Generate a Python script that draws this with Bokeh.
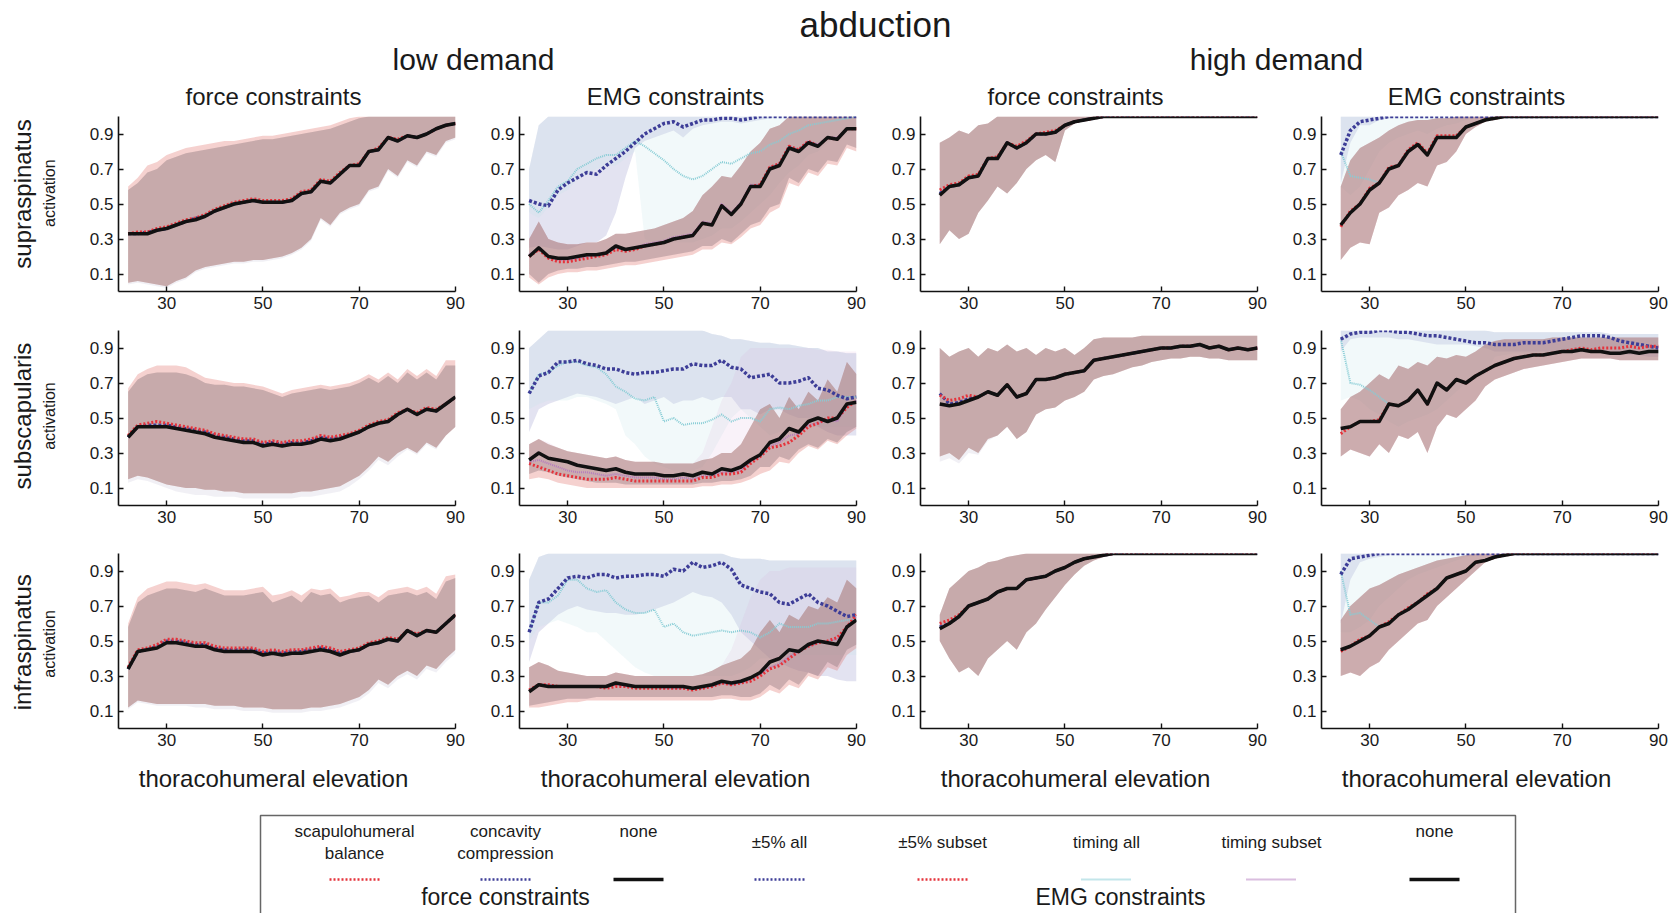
import numpy as np
from bokeh.plotting import figure
from bokeh.layouts import row, column
from bokeh.models import Range1d, FixedTicker
from bokeh.core.properties import value
from bokeh.embed import file_html
from bokeh.resources import INLINE

FONT = "Liberation Sans"
TXT = "#1a1a1a"

# ---------------- x grids (thoracohumeral elevation, deg) ----------------
x_low = [22, 24, 26, 28, 30, 32, 34, 36, 38, 40, 42, 44, 46, 48, 50, 52, 54, 56,
         58, 60, 62, 64, 66, 68, 70, 72, 74, 76, 78, 80, 82, 84, 86, 88, 90]
x_high = [24, 26, 28, 30, 32, 34, 36, 38, 40, 42, 44, 46, 48, 50, 52, 54, 56,
          58, 60, 62, 64, 66, 68, 70, 72, 74, 76, 78, 80, 82, 84, 86, 88, 90]

# ---------------- supraspinatus, low demand, force constraints ----------------
sup_lf_none = [.33, .33, .33, .35, .36, .38, .40, .41, .43, .46, .48, .50, .51, .52, .51, .51, .51, .52,
               .56, .57, .63, .62, .67, .72, .72, .80, .81, .88, .86, .89, .88, .90, .93, .95, .96]
sup_lf_sb = [.33, .34, .34, .36, .37, .39, .41, .42, .44, .47, .49, .51, .52, .53, .52, .52, .52, .53,
             .57, .58, .64, .63, .68, .72, .73, .80, .82, .88, .87, .89, .88, .90, .93, .95, .96]
sup_lf_cc = [.33, .33, .34, .35, .36, .38, .40, .42, .43, .46, .48, .50, .51, .52, .51, .51, .51, .52,
             .56, .57, .63, .62, .67, .72, .72, .80, .81, .88, .86, .89, .88, .90, .93, .95, .96]
sup_lf_hi = [.58, .62, .68, .70, .75, .77, .79, .80, .81, .82, .83, .84, .85, .86, .87, .87, .88, .89,
             .90, .91, .92, .93, .95, .97, .99, 1, 1, 1, 1, 1, 1, 1, 1, 1, 1]
sup_lf_sb_hi = [.60, .65, .72, .74, .78, .80, .82, .83, .84, .85, .86, .86, .87, .88, .89, .89, .90, .91,
                .92, .93, .94, .95, .97, .99, 1, 1, 1, 1, 1, 1, 1, 1, 1, 1, 1]
sup_lf_lo = [.05, .06, .05, .04, .03, .06, .08, .12, .14, .15, .16, .17, .17, .18, .18, .19, .20, .22,
             .25, .30, .42, .38, .45, .48, .50, .58, .60, .70, .66, .75, .72, .80, .78, .86, .88]
sup_lf_cc_lo = [.04, .05, .04, .03, .02, .05, .07, .11, .13, .14, .15, .16, .16, .17, .17, .18, .19, .21,
                .24, .29, .41, .37, .44, .47, .49, .57, .59, .69, .65, .74, .71, .79, .77, .85, .87]

# ---------------- supraspinatus, low demand, EMG constraints ----------------
sup_le_none = [.20, .25, .20, .19, .19, .20, .21, .21, .22, .26, .24, .25, .26, .27, .28, .30, .31, .32,
               .39, .38, .49, .44, .50, .60, .60, .70, .72, .82, .80, .85, .83, .88, .87, .93, .93]
sup_le_sub = [.20, .24, .19, .17, .17, .18, .19, .20, .21, .24, .23, .24, .26, .27, .28, .30, .31, .32,
              .39, .38, .49, .44, .50, .60, .61, .71, .73, .83, .81, .86, .83, .88, .87, .93, .93]
sup_le_all = [.52, .50, .49, .58, .62, .65, .68, .67, .72, .76, .80, .85, .90, .93, .96, .97, .94, .96,
              .98, .98, .99, .99, .98, .99, 1, 1, 1, 1, 1, 1, 1, 1, 1, 1, 1]
sup_le_tall = [.50, .45, .52, .60, .63, .70, .73, .76, .78, .78, .82, .86, .83, .79, .75, .70, .66, .64,
               .66, .70, .74, .73, .76, .79, .80, .84, .86, .90, .92, .95, .96, .97, .98, .99, 1]
sup_le_tsub = [.21, .25, .20, .18, .18, .19, .20, .21, .22, .25, .24, .25, .27, .28, .29, .31, .32, .33,
               .40, .39, .50, .45, .51, .61, .61, .71, .73, .83, .81, .86, .84, .88, .88, .93, .93]
sup_le_lo = [.10, .05, .10, .12, .13, .13, .14, .14, .15, .16, .17, .17, .18, .19, .20, .21, .22, .23,
             .26, .26, .30, .28, .33, .38, .40, .48, .50, .65, .62, .70, .68, .75, .74, .84, .82]
sup_le_hi = [.30, .40, .30, .28, .27, .27, .28, .28, .30, .33, .33, .34, .35, .36, .38, .40, .42, .46,
             .55, .60, .66, .65, .72, .80, .85, .93, .95, 1, 1, 1, 1, 1, 1, 1, 1]
sup_le_sub_lo = [.08, .04, .08, .10, .11, .11, .12, .12, .13, .14, .15, .15, .16, .17, .18, .19, .20, .21,
                 .24, .24, .28, .27, .31, .36, .38, .45, .48, .62, .60, .68, .66, .73, .72, .82, .80]
sup_le_all_lo = [.25, .26, .25, .24, .24, .26, .28, .28, .32, .45, .65, .82, .86, .88, .90, .92, .88, .93,
                 .95, .96, .97, .97, .96, .97, .98, .99, 1, 1, 1, 1, 1, 1, 1, 1, 1]
sup_le_all_hi = [.70, .95, 1, 1, 1, 1, 1, 1, 1, 1, 1, 1, 1, 1, 1, 1, 1, 1,
                 1, 1, 1, 1, 1, 1, 1, 1, 1, 1, 1, 1, 1, 1, 1, 1, 1]
sup_le_tall_lo = [.45, .42, .48, .55, .58, .64, .67, .70, .72, .72, .76, .80, .30, .28, .28, .28, .28, .28,
                  .30, .32, .36, .36, .40, .45, .50, .55, .62, .68, .72, .78, .80, .85, .88, .90, .92]

# ---------------- supraspinatus, high demand, force constraints ----------------
sup_hf_none = [.55, .60, .61, .65, .66, .76, .76, .85, .82, .85, .90, .90, .91, .95, .97, .98, .99,
               1, 1, 1, 1, 1, 1, 1, 1, 1, 1, 1, 1, 1, 1, 1, 1, 1]
sup_hf_sb = [.58, .61, .62, .66, .67, .76, .77, .85, .83, .86, .90, .91, .92, .95, .97, .98, .99,
             1, 1, 1, 1, 1, 1, 1, 1, 1, 1, 1, 1, 1, 1, 1, 1, 1]
sup_hf_cc = [.56, .60, .61, .65, .66, .76, .76, .85, .82, .85, .90, .90, .91, .95, .97, .98, .99,
             1, 1, 1, 1, 1, 1, 1, 1, 1, 1, 1, 1, 1, 1, 1, 1, 1]
sup_hf_hi = [.85, .88, .92, .90, .95, .96, 1, 1, 1, 1, 1, 1, 1, 1, 1, 1, 1,
             1, 1, 1, 1, 1, 1, 1, 1, 1, 1, 1, 1, 1, 1, 1, 1, 1]
sup_hf_lo = [.27, .35, .30, .33, .45, .52, .60, .56, .62, .70, .75, .78, .74, .92, .96, .98, .99,
             1, 1, 1, 1, 1, 1, 1, 1, 1, 1, 1, 1, 1, 1, 1, 1, 1]

# ---------------- supraspinatus, high demand, EMG constraints ----------------
sup_he_none = [.38, .45, .50, .58, .62, .70, .72, .80, .84, .78, .88, .88, .88, .94, .96, .98, .99,
               1, 1, 1, 1, 1, 1, 1, 1, 1, 1, 1, 1, 1, 1, 1, 1, 1]
sup_he_sub = [.37, .46, .50, .59, .62, .71, .72, .81, .85, .79, .89, .89, .89, .94, .96, .98, .99,
              1, 1, 1, 1, 1, 1, 1, 1, 1, 1, 1, 1, 1, 1, 1, 1, 1]
sup_he_all = [.78, .92, .97, .98, .99, 1, 1, 1, 1, 1, 1, 1, 1, 1, 1, 1, 1,
              1, 1, 1, 1, 1, 1, 1, 1, 1, 1, 1, 1, 1, 1, 1, 1, 1]
sup_he_tall = [.80, .66, .65, .64, .62, .70, .72, .80, .84, .78, .88, .88, .88, .94, .96, .98, .99,
               1, 1, 1, 1, 1, 1, 1, 1, 1, 1, 1, 1, 1, 1, 1, 1, 1]
sup_he_tsub = [.38, .45, .50, .58, .62, .70, .72, .80, .84, .78, .88, .88, .88, .94, .96, .98, .99,
               1, 1, 1, 1, 1, 1, 1, 1, 1, 1, 1, 1, 1, 1, 1, 1, 1]
sup_he_lo = [.18, .25, .28, .27, .45, .48, .55, .58, .62, .60, .72, .74, .80, .90, .94, .97, .99,
             1, 1, 1, 1, 1, 1, 1, 1, 1, 1, 1, 1, 1, 1, 1, 1, 1]
sup_he_hi = [.60, .75, .82, .85, .88, .92, .95, .97, .98, .98, .99, .99, 1, 1, 1, 1, 1,
             1, 1, 1, 1, 1, 1, 1, 1, 1, 1, 1, 1, 1, 1, 1, 1, 1]
sup_he_all_lo = [.62, .85, .95, .95, .98, .99, 1, 1, 1, 1, 1, 1, 1, 1, 1, 1, 1,
                 1, 1, 1, 1, 1, 1, 1, 1, 1, 1, 1, 1, 1, 1, 1, 1, 1]
sup_he_all_hi = [1, 1, 1, 1, 1, 1, 1, 1, 1, 1, 1, 1, 1, 1, 1, 1, 1,
                 1, 1, 1, 1, 1, 1, 1, 1, 1, 1, 1, 1, 1, 1, 1, 1, 1]
sup_he_tall_lo = [.60, .55, .60, .70, .80, .85, .88, .90, .92, .90, .93, .95, .96, .98, .99, 1, 1,
                  1, 1, 1, 1, 1, 1, 1, 1, 1, 1, 1, 1, 1, 1, 1, 1, 1]

# ---------------- subscapularis, low demand, force constraints ----------------
sub_lf_none = [.39, .45, .45, .45, .45, .44, .43, .42, .41, .39, .38, .37, .36, .36, .34, .35, .34, .35,
               .35, .36, .38, .37, .38, .40, .42, .45, .47, .48, .52, .55, .52, .55, .54, .58, .62]
sub_lf_sb = [.40, .46, .47, .48, .47, .46, .45, .44, .43, .41, .40, .39, .38, .38, .36, .37, .36, .37,
             .37, .38, .40, .39, .40, .41, .43, .46, .48, .49, .53, .55, .53, .56, .55, .58, .62]
sub_lf_cc = [.39, .45, .46, .46, .46, .45, .44, .43, .42, .40, .39, .38, .37, .37, .35, .36, .35, .36,
             .36, .37, .39, .38, .39, .40, .42, .45, .47, .48, .52, .55, .52, .55, .54, .58, .62]
sub_lf_hi = [.65, .72, .75, .76, .76, .76, .75, .73, .70, .69, .69, .68, .68, .67, .66, .64, .62, .64,
             .65, .66, .67, .66, .67, .68, .70, .73, .70, .74, .70, .76, .72, .76, .72, .80, .80]
sub_lf_sb_hi = [.67, .75, .78, .80, .80, .80, .79, .76, .73, .72, .71, .70, .70, .69, .68, .66, .64, .66,
                .67, .68, .69, .68, .69, .70, .72, .75, .72, .76, .72, .78, .74, .78, .74, .83, .83]
sub_lf_lo = [.15, .17, .16, .14, .12, .11, .10, .10, .09, .09, .08, .08, .07, .07, .07, .07, .07, .07,
             .08, .08, .09, .10, .11, .14, .17, .22, .28, .25, .30, .33, .30, .36, .33, .40, .45]
sub_lf_cc_lo = [.13, .15, .14, .12, .10, .08, .07, .06, .06, .05, .05, .05, .04, .04, .04, .04, .04, .04,
                .05, .05, .06, .07, .08, .11, .15, .20, .26, .23, .28, .32, .29, .35, .32, .40, .45]

# ---------------- subscapularis, low demand, EMG constraints ----------------
sub_le_none = [.26, .30, .27, .26, .25, .23, .22, .21, .20, .21, .19, .18, .18, .18, .17, .17, .18, .17,
               .19, .18, .21, .20, .22, .26, .29, .36, .38, .44, .42, .48, .50, .48, .50, .58, .59]
sub_le_sub = [.24, .22, .20, .18, .17, .16, .15, .15, .15, .16, .15, .14, .14, .14, .14, .14, .14, .14,
              .16, .16, .18, .18, .19, .24, .28, .33, .34, .36, .40, .45, .47, .50, .50, .56, .60]
sub_le_tsub = [.25, .26, .24, .22, .20, .19, .19, .18, .17, .18, .17, .16, .16, .16, .15, .15, .16, .15,
               .17, .17, .19, .19, .20, .25, .28, .34, .36, .40, .41, .46, .47, .49, .48, .57, .60]
sub_le_all = [.64, .74, .76, .82, .82, .83, .81, .80, .78, .78, .76, .75, .76, .76, .77, .78, .78, .81,
              .80, .80, .83, .79, .78, .73, .74, .75, .70, .70, .71, .73, .67, .66, .63, .61, .62]
sub_le_tall = [.64, .75, .76, .80, .82, .82, .80, .79, .75, .68, .65, .61, .60, .62, .48, .50, .46, .47,
               .47, .49, .52, .48, .50, .50, .48, .55, .56, .55, .57, .58, .60, .60, .62, .62, .62]
sub_le_lo = [.18, .20, .19, .17, .16, .15, .14, .13, .13, .13, .12, .12, .12, .12, .12, .12, .12, .12,
             .13, .13, .14, .14, .15, .17, .22, .22, .28, .26, .32, .35, .33, .38, .36, .42, .45]
sub_le_hi = [.35, .38, .35, .33, .31, .30, .29, .28, .27, .28, .26, .25, .25, .25, .24, .24, .24, .24,
             .26, .27, .30, .30, .35, .45, .55, .58, .50, .62, .55, .65, .60, .72, .65, .82, .75]
sub_le_sub_lo = [.15, .16, .15, .13, .12, .11, .10, .10, .10, .10, .10, .10, .10, .10, .10, .10, .10, .10,
                 .11, .11, .12, .12, .13, .15, .18, .20, .25, .24, .30, .34, .32, .37, .35, .40, .44]
sub_le_all_lo = [.42, .55, .58, .60, .62, .64, .63, .62, .60, .58, .60, .62, .58, .60, .62, .58, .60, .60,
                 .62, .60, .62, .62, .55, .55, .52, .55, .55, .52, .50, .50, .45, .42, .40, .40, .40]
sub_le_all_hi = [.90, .95, 1, 1, 1, 1, 1, 1, 1, 1, 1, 1, 1, 1, 1, 1, 1, 1,
                 1, .98, .97, .95, .95, .94, .93, .93, .92, .92, .91, .90, .90, .88, .88, .87, .87]
sub_le_tall_lo = [.55, .58, .60, .60, .60, .62, .62, .60, .58, .55, .40, .35, .28, .24, .22, .20, .20, .20,
                  .22, .30, .40, .50, .55, .50, .45, .40, .42, .45, .45, .45, .45, .45, .45, .45, .45]
sub_le_tsub_hi = [.35, .38, .36, .33, .31, .30, .29, .28, .27, .28, .26, .25, .25, .25, .24, .24, .24, .24,
                  .30, .45, .60, .70, .85, .90, .90, .90, .90, .90, .90, .90, .89, .89, .88, .88, .88]

# ---------------- subscapularis, high demand, force constraints ----------------
sub_hf_none = [.58, .57, .58, .60, .62, .65, .63, .69, .62, .64, .72, .72, .73, .75, .76, .77, .83,
               .84, .85, .86, .87, .88, .89, .90, .90, .91, .91, .92, .90, .91, .89, .90, .89, .90]
sub_hf_sb = [.63, .60, .61, .63, .62, .65, .63, .69, .62, .64, .72, .72, .73, .75, .76, .77, .83,
             .84, .85, .86, .87, .88, .89, .90, .90, .91, .91, .92, .90, .91, .89, .90, .89, .90]
sub_hf_cc = [.64, .58, .59, .61, .62, .65, .63, .69, .62, .64, .72, .72, .73, .75, .76, .77, .83,
             .84, .85, .86, .87, .88, .89, .90, .90, .91, .91, .92, .90, .91, .89, .90, .89, .90]
sub_hf_hi = [.90, .85, .88, .90, .85, .90, .88, .92, .88, .90, .86, .90, .88, .90, .86, .90, .95,
             .96, .96, .96, .96, .97, .97, .97, .97, .97, .97, .97, .97, .97, .97, .97, .97, .97]
sub_hf_lo = [.28, .30, .26, .33, .30, .38, .40, .45, .38, .42, .52, .55, .56, .60, .62, .65, .72,
             .74, .75, .77, .79, .80, .82, .83, .84, .84, .85, .85, .84, .84, .83, .83, .83, .83]
sub_hf_cc_lo = [.25, .27, .24, .30, .29, .37, .40, .45, .38, .42, .52, .55, .56, .60, .62, .65, .72,
                .74, .75, .77, .79, .80, .82, .83, .84, .84, .85, .85, .84, .84, .83, .83, .83, .83]

# ---------------- subscapularis, high demand, EMG constraints ----------------
sub_he_none = [.44, .45, .48, .48, .48, .58, .57, .60, .66, .58, .70, .66, .72, .70, .74, .77, .80,
               .82, .84, .85, .86, .86, .87, .88, .88, .89, .88, .88, .87, .87, .88, .87, .88, .88]
sub_he_sub = [.41, .45, .48, .48, .49, .58, .57, .60, .66, .58, .70, .66, .72, .70, .74, .77, .80,
              .82, .84, .85, .86, .86, .87, .88, .89, .90, .89, .90, .90, .90, .91, .90, .91, .91]
sub_he_all = [.95, .98, .99, .99, 1, 1, .99, .99, .98, .97, .97, .96, .95, .94, .93, .93, .92,
              .92, .92, .93, .93, .93, .94, .95, .96, .97, .97, .97, .96, .94, .93, .92, .91, .90]
sub_he_tall = [.95, .70, .69, .66, .62, .58, .57, .60, .66, .58, .70, .66, .72, .70, .74, .77, .80,
               .82, .84, .85, .86, .86, .87, .88, .88, .89, .88, .88, .87, .87, .88, .87, .88, .88]
sub_he_tsub = [.44, .45, .48, .48, .48, .58, .57, .60, .66, .58, .70, .66, .72, .70, .74, .77, .80,
               .82, .84, .85, .86, .86, .87, .88, .88, .89, .88, .88, .87, .87, .88, .87, .88, .88]
sub_he_lo = [.28, .32, .30, .28, .35, .30, .40, .38, .42, .30, .45, .52, .50, .55, .60, .68, .72,
             .74, .76, .78, .79, .80, .81, .82, .83, .84, .84, .84, .84, .83, .83, .83, .83, .83]
sub_he_hi = [.55, .62, .65, .70, .75, .72, .80, .78, .82, .80, .85, .84, .86, .85, .88, .92, .94,
             .95, .95, .95, .95, .95, .96, .96, .96, .96, .96, .96, .96, .96, .96, .96, .96, .96]
sub_he_all_lo = [.88, .95, .96, .96, .96, .96, .95, .95, .94, .93, .92, .92, .92, .92, .91, .90, .88,
                 .88, .88, .88, .88, .88, .88, .88, .88, .88, .88, .88, .88, .87, .86, .86, .85, .85]
sub_he_all_hi = [1, 1, 1, 1, 1, 1, 1, 1, 1, 1, 1, 1, 1, 1, 1, 1, .99,
                 .99, .99, .99, .99, .99, .99, .99, .99, .99, .99, .99, .98, .98, .98, .98, .98, .98]
sub_he_tall_lo = [.60, .62, .60, .55, .52, .48, .45, .48, .50, .52, .55, .60, .65, .70, .72, .75, .85,
                  .86, .87, .87, .87, .87, .87, .87, .87, .87, .87, .87, .87, .87, .87, .87, .87, .87]

# ---------------- infraspinatus, low demand, force constraints ----------------
inf_lf_none = [.34, .44, .45, .46, .49, .49, .48, .47, .47, .45, .44, .44, .44, .44, .42, .43, .42, .43,
               .43, .44, .45, .44, .42, .44, .45, .48, .49, .51, .50, .56, .53, .56, .55, .60, .65]
inf_lf_sb = [.35, .45, .46, .48, .51, .51, .50, .49, .49, .47, .46, .46, .46, .46, .44, .45, .44, .45,
             .45, .46, .47, .46, .44, .45, .46, .49, .50, .52, .51, .56, .54, .56, .55, .60, .65]
inf_lf_cc = [.34, .44, .45, .47, .50, .50, .49, .48, .48, .46, .45, .45, .45, .45, .43, .44, .43, .44,
             .44, .45, .46, .45, .43, .44, .45, .48, .49, .51, .50, .56, .53, .56, .55, .60, .65]
inf_lf_hi = [.58, .72, .76, .78, .80, .80, .79, .78, .80, .78, .76, .76, .76, .77, .78, .72, .74, .76,
             .72, .78, .76, .77, .72, .74, .75, .76, .72, .76, .77, .78, .76, .78, .74, .84, .86]
inf_lf_sb_hi = [.60, .75, .80, .82, .84, .84, .83, .82, .83, .81, .79, .79, .79, .80, .81, .76, .77, .79,
                .76, .80, .79, .80, .75, .76, .78, .78, .75, .79, .80, .81, .79, .81, .77, .87, .88]
inf_lf_lo = [.12, .16, .15, .14, .14, .14, .14, .14, .14, .13, .13, .13, .12, .12, .12, .11, .11, .11,
             .11, .12, .12, .13, .14, .16, .18, .22, .28, .25, .30, .33, .30, .36, .34, .40, .45]
inf_lf_cc_lo = [.11, .15, .14, .13, .13, .13, .13, .12, .12, .11, .11, .11, .10, .10, .10, .09, .09, .09,
                .09, .10, .10, .11, .12, .14, .16, .20, .26, .23, .28, .31, .28, .34, .32, .38, .43]

# ---------------- infraspinatus, low demand, EMG constraints ----------------
inf_le_none = [.21, .25, .24, .24, .24, .24, .24, .24, .24, .26, .25, .24, .24, .24, .24, .24, .24, .23,
               .24, .25, .27, .26, .27, .29, .32, .38, .40, .45, .44, .48, .50, .49, .48, .58, .62]
inf_le_sub = [.22, .25, .25, .24, .24, .24, .24, .24, .23, .24, .24, .23, .23, .23, .23, .23, .23, .22,
              .23, .24, .26, .25, .26, .27, .30, .34, .36, .40, .44, .47, .49, .50, .52, .58, .65]
inf_le_tsub = [.22, .25, .25, .24, .24, .24, .24, .24, .24, .25, .24, .24, .24, .24, .23, .23, .23, .23,
               .23, .24, .26, .25, .26, .28, .31, .35, .37, .41, .44, .47, .49, .50, .51, .58, .64]
inf_le_all = [.55, .72, .74, .80, .86, .87, .86, .88, .88, .86, .87, .87, .88, .88, .87, .91, .90, .95,
              .92, .93, .95, .91, .82, .80, .78, .77, .72, .71, .74, .77, .72, .70, .67, .64, .65]
inf_le_tall = [.55, .72, .72, .76, .85, .85, .80, .78, .79, .72, .68, .66, .66, .68, .58, .60, .55, .53,
               .54, .55, .56, .55, .56, .55, .52, .55, .60, .58, .58, .58, .60, .60, .61, .62, .62]
inf_le_lo = [.13, .14, .15, .16, .17, .17, .17, .18, .18, .18, .18, .18, .18, .18, .18, .18, .18, .18,
             .18, .18, .19, .19, .18, .18, .20, .25, .22, .28, .25, .32, .30, .38, .35, .45, .48]
inf_le_hi = [.35, .38, .36, .33, .32, .31, .30, .30, .30, .32, .31, .30, .30, .30, .30, .30, .30, .30,
             .31, .33, .36, .38, .40, .45, .55, .62, .55, .65, .62, .70, .68, .75, .72, .85, .80]
inf_le_sub_lo = [.12, .12, .13, .14, .15, .15, .16, .16, .16, .16, .16, .16, .16, .16, .16, .16, .16, .16,
                 .16, .16, .17, .17, .16, .16, .18, .22, .20, .25, .23, .30, .28, .35, .33, .42, .46]
inf_le_all_lo = [.38, .55, .60, .65, .68, .70, .68, .67, .66, .66, .65, .65, .66, .68, .70, .72, .75, .78,
                 .76, .75, .72, .65, .55, .50, .45, .40, .38, .35, .33, .32, .30, .30, .28, .27, .27]
inf_le_all_hi = [.85, .98, 1, 1, 1, 1, 1, 1, 1, 1, 1, 1, 1, 1, 1, 1, 1, 1,
                 1, 1, 1, .98, .97, .97, .97, .96, .96, .96, .96, .96, .96, .96, .96, .96, .96]
inf_le_tall_lo = [.50, .58, .60, .62, .60, .58, .55, .55, .50, .45, .40, .35, .32, .30, .30, .30, .30, .30,
                  .30, .30, .30, .30, .32, .35, .40, .40, .42, .42, .42, .42, .42, .42, .42, .42, .42]
inf_le_tsub_hi = [.35, .38, .36, .33, .32, .31, .30, .30, .30, .32, .31, .30, .30, .30, .30, .30, .30, .30,
                  .31, .33, .36, .45, .60, .75, .85, .90, .90, .92, .92, .92, .92, .92, .92, .92, .92]

# ---------------- infraspinatus, high demand, force constraints ----------------
inf_hf_none = [.57, .60, .64, .70, .72, .74, .78, .80, .80, .85, .86, .87, .90, .92, .95, .97, .98,
               .99, 1, 1, 1, 1, 1, 1, 1, 1, 1, 1, 1, 1, 1, 1, 1, 1]
inf_hf_sb = [.60, .62, .65, .70, .72, .74, .78, .80, .80, .85, .86, .87, .90, .92, .95, .97, .98,
             .99, 1, 1, 1, 1, 1, 1, 1, 1, 1, 1, 1, 1, 1, 1, 1, 1]
inf_hf_cc = [.58, .60, .64, .70, .72, .74, .78, .80, .80, .85, .86, .87, .90, .92, .95, .97, .98,
             .99, 1, 1, 1, 1, 1, 1, 1, 1, 1, 1, 1, 1, 1, 1, 1, 1]
inf_hf_hi = [.65, .80, .85, .90, .92, .95, .96, .98, .99, 1, 1, 1, 1, 1, 1, 1, 1,
             1, 1, 1, 1, 1, 1, 1, 1, 1, 1, 1, 1, 1, 1, 1, 1, 1]
inf_hf_lo = [.50, .40, .32, .35, .30, .40, .45, .50, .45, .55, .60, .68, .75, .82, .88, .93, .96,
             .98, 1, 1, 1, 1, 1, 1, 1, 1, 1, 1, 1, 1, 1, 1, 1, 1]

# ---------------- infraspinatus, high demand, EMG constraints ----------------
inf_he_none = [.45, .47, .50, .53, .58, .60, .65, .68, .72, .76, .80, .86, .88, .90, .95, .96, .98,
               .99, 1, 1, 1, 1, 1, 1, 1, 1, 1, 1, 1, 1, 1, 1, 1, 1]
inf_he_sub = [.44, .47, .51, .53, .58, .61, .65, .69, .72, .77, .80, .86, .88, .90, .95, .96, .98,
              .99, 1, 1, 1, 1, 1, 1, 1, 1, 1, 1, 1, 1, 1, 1, 1, 1]
inf_he_all = [.88, .97, .98, .99, 1, 1, 1, 1, 1, 1, 1, 1, 1, 1, 1, 1, 1,
              1, 1, 1, 1, 1, 1, 1, 1, 1, 1, 1, 1, 1, 1, 1, 1, 1]
inf_he_tall = [.90, .65, .66, .62, .58, .60, .65, .68, .72, .76, .80, .86, .88, .90, .95, .96, .98,
               .99, 1, 1, 1, 1, 1, 1, 1, 1, 1, 1, 1, 1, 1, 1, 1, 1]
inf_he_tsub = [.45, .47, .50, .53, .58, .60, .65, .68, .72, .76, .80, .86, .88, .90, .95, .96, .98,
               .99, 1, 1, 1, 1, 1, 1, 1, 1, 1, 1, 1, 1, 1, 1, 1, 1]
inf_he_lo = [.30, .32, .30, .35, .38, .45, .50, .55, .60, .62, .70, .75, .80, .85, .90, .95, .97,
             .99, 1, 1, 1, 1, 1, 1, 1, 1, 1, 1, 1, 1, 1, 1, 1, 1]
inf_he_hi = [.62, .70, .75, .80, .82, .85, .88, .90, .92, .94, .96, .97, .98, .99, 1, 1, 1,
             1, 1, 1, 1, 1, 1, 1, 1, 1, 1, 1, 1, 1, 1, 1, 1, 1]
inf_he_all_lo = [.60, .85, .95, .97, .98, .99, 1, 1, 1, 1, 1, 1, 1, 1, 1, 1, 1,
                 1, 1, 1, 1, 1, 1, 1, 1, 1, 1, 1, 1, 1, 1, 1, 1, 1]
inf_he_all_hi = [1, 1, 1, 1, 1, 1, 1, 1, 1, 1, 1, 1, 1, 1, 1, 1, 1,
                 1, 1, 1, 1, 1, 1, 1, 1, 1, 1, 1, 1, 1, 1, 1, 1, 1]
inf_he_tall_lo = [.55, .55, .58, .62, .70, .75, .80, .85, .88, .90, .92, .94, .96, .98, .99, 1, 1,
                  1, 1, 1, 1, 1, 1, 1, 1, 1, 1, 1, 1, 1, 1, 1, 1, 1]

# ---------------- texts ----------------
main_title = "abduction"
demand_titles = ["low demand", "high demand"]
col_titles = ["force constraints", "EMG constraints", "force constraints", "EMG constraints"]
muscles = ["supraspinatus", "subscapularis", "infraspinatus"]
y_label = "activation"
x_label = "thoracohumeral elevation"
x_ticks = [30, 50, 70, 90]
y_ticks = [0.1, 0.3, 0.5, 0.7, 0.9]

# ---------------- panel table ----------------
PANELS = [
    [dict(kind="force", x=x_low, none=sup_lf_none, sb=sup_lf_sb, cc=sup_lf_cc, lo=sup_lf_lo, hi=sup_lf_hi,
          sb_hi=sup_lf_sb_hi, cc_lo=sup_lf_cc_lo),
     dict(kind="emg", x=x_low, none=sup_le_none, sub=sup_le_sub, all=sup_le_all, tall=sup_le_tall, tsub=sup_le_tsub,
          lo=sup_le_lo, hi=sup_le_hi, sub_lo=sup_le_sub_lo, all_lo=sup_le_all_lo, all_hi=sup_le_all_hi,
          tall_lo=sup_le_tall_lo, tall_hi=sup_le_all_hi, tsub_hi=sup_le_hi),
     dict(kind="force", x=x_high, none=sup_hf_none, sb=sup_hf_sb, cc=sup_hf_cc, lo=sup_hf_lo, hi=sup_hf_hi,
          sb_hi=sup_hf_hi, cc_lo=sup_hf_lo),
     dict(kind="emg", x=x_high, none=sup_he_none, sub=sup_he_sub, all=sup_he_all, tall=sup_he_tall, tsub=sup_he_tsub,
          lo=sup_he_lo, hi=sup_he_hi, sub_lo=sup_he_lo, all_lo=sup_he_all_lo, all_hi=sup_he_all_hi,
          tall_lo=sup_he_tall_lo, tall_hi=sup_he_all_hi, tsub_hi=sup_he_hi)],
    [dict(kind="force", x=x_low, none=sub_lf_none, sb=sub_lf_sb, cc=sub_lf_cc, lo=sub_lf_lo, hi=sub_lf_hi,
          sb_hi=sub_lf_sb_hi, cc_lo=sub_lf_cc_lo),
     dict(kind="emg", x=x_low, none=sub_le_none, sub=sub_le_sub, all=sub_le_all, tall=sub_le_tall, tsub=sub_le_tsub,
          lo=sub_le_lo, hi=sub_le_hi, sub_lo=sub_le_sub_lo, all_lo=sub_le_all_lo, all_hi=sub_le_all_hi,
          tall_lo=sub_le_tall_lo, tall_hi=sub_le_all_hi, tsub_hi=sub_le_tsub_hi),
     dict(kind="force", x=x_high, none=sub_hf_none, sb=sub_hf_sb, cc=sub_hf_cc, lo=sub_hf_lo, hi=sub_hf_hi,
          sb_hi=sub_hf_hi, cc_lo=sub_hf_cc_lo),
     dict(kind="emg", x=x_high, none=sub_he_none, sub=sub_he_sub, all=sub_he_all, tall=sub_he_tall, tsub=sub_he_tsub,
          lo=sub_he_lo, hi=sub_he_hi, sub_lo=sub_he_lo, all_lo=sub_he_all_lo, all_hi=sub_he_all_hi,
          tall_lo=sub_he_tall_lo, tall_hi=sub_he_all_hi, tsub_hi=sub_he_hi)],
    [dict(kind="force", x=x_low, none=inf_lf_none, sb=inf_lf_sb, cc=inf_lf_cc, lo=inf_lf_lo, hi=inf_lf_hi,
          sb_hi=inf_lf_sb_hi, cc_lo=inf_lf_cc_lo),
     dict(kind="emg", x=x_low, none=inf_le_none, sub=inf_le_sub, all=inf_le_all, tall=inf_le_tall, tsub=inf_le_tsub,
          lo=inf_le_lo, hi=inf_le_hi, sub_lo=inf_le_sub_lo, all_lo=inf_le_all_lo, all_hi=inf_le_all_hi,
          tall_lo=inf_le_tall_lo, tall_hi=inf_le_all_hi, tsub_hi=inf_le_tsub_hi),
     dict(kind="force", x=x_high, none=inf_hf_none, sb=inf_hf_sb, cc=inf_hf_cc, lo=inf_hf_lo, hi=inf_hf_hi,
          sb_hi=inf_hf_hi, cc_lo=inf_hf_lo),
     dict(kind="emg", x=x_high, none=inf_he_none, sub=inf_he_sub, all=inf_he_all, tall=inf_he_tall, tsub=inf_he_tsub,
          lo=inf_he_lo, hi=inf_he_hi, sub_lo=inf_he_lo, all_lo=inf_he_all_lo, all_hi=inf_he_all_hi,
          tall_lo=inf_he_tall_lo, tall_hi=inf_he_all_hi, tsub_hi=inf_he_hi)],
]

# ---------------- styles ----------------
C_BLACK = "#111111"
C_RED = "#e5333b"
C_BLUE = "#3d3d97"
C_CYAN = "#86ccd5"
C_PINK = "#b57cbf"
B_GREY = "#807272"
B_SALMON = "#e0706a"
B_CC = "#8c82aa"
B_LAV = "#a3a3d0"
B_CYAN = "#c4e4ea"
B_PINK = "#d9a6d6"

FRAME_W, FRAME_H = 337, 175
LABEL_W = 60
LEFTS = [58, 52, 52, 52]
RIGHTS = [12, 12, 12, 19]
TOPS = [4, 8, 8]
BOTTOMS = [31, 40, 30]
ROW_PAGE_TOP = [112, 322, 545]
TOP_H = 112
BOTTOM_PAGE_TOP = 758
PAGE_W, PAGE_H = 1677, 913
COL_CENTERS = [273, 675, 1075, 1476]


def band(p, x, lo, hi, color, alpha):
    n = min(len(x), len(lo), len(hi))
    p.varea(x=x[:n], y1=lo[:n], y2=hi[:n], fill_color=color, fill_alpha=alpha)


def curve(p, x, y, color, width, dash="solid"):
    n = min(len(x), len(y))
    p.line(x[:n], y[:n], line_color=color, line_width=width, line_dash=dash, line_cap="butt", line_join="round")


def blank(width, height, xr, yr):
    p = figure(width=width, height=height, x_range=xr, y_range=yr, output_backend="svg",
               toolbar_location=None, x_axis_type=None, y_axis_type=None, min_border=0)
    p.grid.visible = False
    p.outline_line_color = None
    return p


def txt(p, x, y, s, size, angle=0.0, color=TXT):
    p.text(x=[x], y=[y], text=[s], text_font=value(FONT), text_font_size=value(size),
           text_align="center", text_baseline="middle", angle=angle, text_color=color)


def make_panel(spec, r, c):
    w = LEFTS[c] + FRAME_W + RIGHTS[c]
    h = TOPS[r] + FRAME_H + BOTTOMS[r]
    p = figure(width=w, height=h, x_range=Range1d(20, 90), y_range=Range1d(0, 1),
               output_backend="svg", toolbar_location=None,
               min_border_left=LEFTS[c], min_border_right=RIGHTS[c],
               min_border_top=TOPS[r], min_border_bottom=BOTTOMS[r])
    p.grid.visible = False
    p.outline_line_color = None
    p.xaxis.ticker = FixedTicker(ticks=x_ticks)
    p.yaxis.ticker = FixedTicker(ticks=y_ticks)
    for ax in (p.xaxis, p.yaxis):
        ax.axis_line_color = "#111111"
        ax.axis_line_width = 1.6
        ax.major_tick_in = 5
        ax.major_tick_out = 0
        ax.major_tick_line_color = "#111111"
        ax.major_tick_line_width = 1.4
        ax.minor_tick_line_color = None
        ax.major_label_text_font = FONT
        ax.major_label_text_font_size = "17px"
        ax.major_label_text_color = TXT
        ax.major_label_standoff = 5
    x = spec["x"]
    if spec["kind"] == "force":
        band(p, x, spec["cc_lo"], spec["hi"], B_CC, 0.12)
        band(p, x, spec["lo"], spec["sb_hi"], B_SALMON, 0.32)
        band(p, x, spec["lo"], spec["hi"], B_GREY, 0.34)
        curve(p, x, spec["cc"], C_BLUE, 3, "3 2")
        curve(p, x, spec["sb"], C_RED, 3, "2 2")
        curve(p, x, spec["none"], C_BLACK, 3.5)
    else:
        band(p, x, spec["all_lo"], spec["all_hi"], B_LAV, 0.30)
        band(p, x, spec["tall_lo"], spec["tall_hi"], B_CYAN, 0.22)
        band(p, x, spec["lo"], spec["tsub_hi"], B_PINK, 0.15)
        band(p, x, spec["sub_lo"], spec["hi"], B_SALMON, 0.32)
        band(p, x, spec["lo"], spec["hi"], B_GREY, 0.32)
        curve(p, x, spec["tall"], C_CYAN, 2, "1 1")
        curve(p, x, spec["tsub"], C_PINK, 2, "1 1")
        curve(p, x, spec["all"], C_BLUE, 3.5, "3 2")
        curve(p, x, spec["sub"], C_RED, 3, "2 2")
        curve(p, x, spec["none"], C_BLACK, 3.5)
    return p


# ---------------- top titles ----------------
top = blank(PAGE_W, TOP_H, Range1d(0, PAGE_W), Range1d(TOP_H, 0))
txt(top, 875, 24, main_title, "35px")
txt(top, 473, 59, demand_titles[0], "30px")
txt(top, 1276, 59, demand_titles[1], "30px")
for cx, t in zip(COL_CENTERS, col_titles):
    txt(top, cx, 96, t, "24px")

# ---------------- panel rows ----------------
row_label_y = [(205, 204), (431, 431), (653, 655)]
rows = []
for r in range(3):
    h = TOPS[r] + FRAME_H + BOTTOMS[r]
    pt = ROW_PAGE_TOP[r]
    lab = blank(LABEL_W, h, Range1d(0, LABEL_W), Range1d(pt + h, pt))
    txt(lab, 22, row_label_y[r][0], muscles[r], "24px", angle=np.pi / 2)
    txt(lab, 49, row_label_y[r][1], y_label, "16px", angle=np.pi / 2)
    figs = [lab] + [make_panel(PANELS[r][c], r, c) for c in range(4)]
    rows.append(row(*figs, spacing=0))

# ---------------- x labels + legend ----------------
bh = PAGE_H - BOTTOM_PAGE_TOP
bot = blank(PAGE_W, bh, Range1d(0, PAGE_W), Range1d(PAGE_H, BOTTOM_PAGE_TOP))
for cx in COL_CENTERS:
    txt(bot, cx, 778, x_label, "24px")

bot.quad(left=[260], right=[1515], top=[815], bottom=[PAGE_H + 5], fill_color=None,
         line_color="#666666", line_width=1.5)

legend_items = [
    (354, ["scapulohumeral", "balance"], C_RED, 2.5, "2 2"),
    (505, ["concavity", "compression"], C_BLUE, 2.5, "2 2"),
    (638, ["none"], C_BLACK, 3.5, "solid"),
    (779, ["±5% all"], C_BLUE, 2.5, "2 2"),
    (942, ["±5% subset"], C_RED, 2.5, "2 2"),
    (1106, ["timing all"], C_CYAN, 2, "1 1"),
    (1271, ["timing subset"], C_PINK, 2, "1 1"),
    (1434, ["none"], C_BLACK, 3.5, "solid"),
]
for cx, lines, col, lw, dash in legend_items:
    if len(lines) == 2:
        txt(bot, cx, 831, lines[0], "17px")
        txt(bot, cx, 853, lines[1], "17px")
    elif lines[0] == "none":
        txt(bot, cx, 831, lines[0], "17px")
    else:
        txt(bot, cx, 842, lines[0], "17px")
    bot.line([cx - 25, cx + 25], [879, 879], line_color=col, line_width=lw, line_dash=dash)
txt(bot, 505, 896, "force constraints", "23px")
txt(bot, 1120, 896, "EMG constraints", "23px")

layout = column(top, *rows, bot, spacing=0)
open("out.html", "w").write(file_html(layout, INLINE))
